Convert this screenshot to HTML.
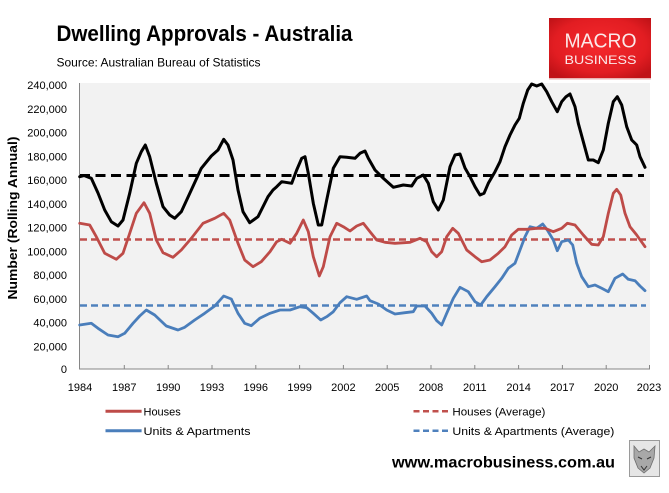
<!DOCTYPE html>
<html><head><meta charset="utf-8"><style>
html,body{margin:0;padding:0;background:#fff;}
svg{display:block;}
text{font-family:"Liberation Sans",sans-serif;}
</style></head><body>
<svg width="669" height="493" viewBox="0 0 669 493" xmlns="http://www.w3.org/2000/svg">
<defs>
<radialGradient id="rg" cx="50%" cy="45%" r="65%">
<stop offset="0" stop-color="#f5292d"/><stop offset="0.7" stop-color="#e21d22"/><stop offset="1" stop-color="#c01217"/>
</radialGradient>
</defs>
<rect width="669" height="493" fill="#fff"/>
<!-- Title -->
<text x="56.5" y="41" font-size="22" font-weight="bold" fill="#000" textLength="296" lengthAdjust="spacingAndGlyphs">Dwelling Approvals - Australia</text>
<text x="56.5" y="66.5" font-size="12" fill="#000" textLength="204" lengthAdjust="spacingAndGlyphs">Source: Australian Bureau of Statistics</text>
<!-- Logo -->
<rect x="549" y="18" width="102" height="60" fill="url(#rg)"/>
<rect x="549" y="78" width="102" height="1.5" fill="#e9b3b3"/>
<text x="600.5" y="47.3" font-size="20" fill="#fbeaea" text-anchor="middle" textLength="72" lengthAdjust="spacingAndGlyphs">MACRO</text>
<text x="600.5" y="64" font-size="11.5" fill="#fbeaea" text-anchor="middle" textLength="72" lengthAdjust="spacingAndGlyphs">BUSINESS</text>
<!-- Plot area -->
<rect x="80" y="83" width="570" height="286" fill="#f2f2f2"/>
<line x1="79.5" y1="83" x2="79.5" y2="369.5" stroke="#868686" stroke-width="1"/>
<line x1="79.5" y1="369" x2="650" y2="369" stroke="#868686" stroke-width="1"/>
<g stroke="#868686" stroke-width="1">
<line x1="124.3" y1="365" x2="124.3" y2="369"/><line x1="168.2" y1="365" x2="168.2" y2="369"/>
<line x1="212" y1="365" x2="212" y2="369"/><line x1="255.8" y1="365" x2="255.8" y2="369"/>
<line x1="299.6" y1="365" x2="299.6" y2="369"/><line x1="343.4" y1="365" x2="343.4" y2="369"/>
<line x1="387.2" y1="365" x2="387.2" y2="369"/><line x1="431" y1="365" x2="431" y2="369"/>
<line x1="474.8" y1="365" x2="474.8" y2="369"/><line x1="518.6" y1="365" x2="518.6" y2="369"/>
<line x1="562.4" y1="365" x2="562.4" y2="369"/><line x1="606.2" y1="365" x2="606.2" y2="369"/>
<line x1="649.5" y1="365" x2="649.5" y2="369"/>
</g>
<!-- Y labels -->
<g font-size="11" fill="#000" text-anchor="end">
<text x="67" y="89">240,000</text><text x="67" y="112.8">220,000</text>
<text x="67" y="136.5">200,000</text><text x="67" y="160.3">180,000</text>
<text x="67" y="184">160,000</text><text x="67" y="207.8">140,000</text>
<text x="67" y="231.5">120,000</text><text x="67" y="255.3">100,000</text>
<text x="67" y="279">80,000</text><text x="67" y="302.8">60,000</text>
<text x="67" y="326.5">40,000</text><text x="67" y="350.3">20,000</text>
<text x="67" y="373">0</text>
</g>
<text transform="translate(17,218) rotate(-90)" font-size="13" font-weight="bold" text-anchor="middle" textLength="163" lengthAdjust="spacingAndGlyphs">Number (Rolling Annual)</text>
<!-- X labels -->
<g font-size="11" fill="#000" text-anchor="middle">
<text x="80" y="391">1984</text><text x="124.3" y="391">1987</text><text x="168.2" y="391">1990</text>
<text x="212" y="391">1993</text><text x="255.8" y="391">1996</text><text x="299.6" y="391">1999</text>
<text x="343.4" y="391">2002</text><text x="387.2" y="391">2005</text><text x="431" y="391">2008</text>
<text x="474.8" y="391">2011</text><text x="518.6" y="391">2014</text><text x="562.4" y="391">2017</text>
<text x="649" y="391">2023</text><text x="606.2" y="391">2020</text>
</g>
<!-- Average lines -->
<line x1="80" y1="175.5" x2="644" y2="175.5" stroke="#000" stroke-width="3" stroke-dasharray="10,5.5"/>
<line x1="80" y1="239.5" x2="646" y2="239.5" stroke="#c0504d" stroke-width="2.5" stroke-dasharray="7,4"/>
<line x1="80" y1="305.5" x2="646" y2="305.5" stroke="#4f81bd" stroke-width="2.5" stroke-dasharray="7,4"/>
<!-- Series -->
<polyline fill="none" stroke="#4a7ebb" stroke-width="2.8" stroke-linejoin="round" stroke-linecap="round" points="79.7,325 91.3,323.3 98,328.3 108,335 118,336.7 124.7,333.3 133,323.3 139.7,316 146.3,310 154.7,315 166.3,326 178,330 184.7,327.3 194.7,320 204.7,313.3 214.7,306 223.7,296 231.3,299 238,313.3 244.7,323.3 251.3,325.7 259.7,318.3 270,313.3 280,310 290,310 300,306.7 306.7,307.7 313.3,313.3 320.7,320 326.7,316.7 333.3,311.7 340,302.7 346.7,296.7 356.7,299.3 366.7,296 370,300.7 378.3,304 386.7,310 395,314 405,312.7 413.3,311.7 416.7,306 425,306 431.7,313.3 436.7,320.7 441.7,325 446.7,313.3 453.3,298.3 460,287.3 468.3,291.7 475,301.7 480.7,305 486.7,296.7 495,286.7 501.7,278.3 508.3,268.3 515,263.3 520,250 525,236.7 530,226.7 536.7,228.3 542.7,224 547.3,230 553.3,240 557.3,250.7 561.7,241.7 568.3,240 572.7,245 576.7,263.3 581.7,276.7 588.3,286.7 595,285 601.7,288.3 608.3,291.7 615,278.3 622.7,274 628.3,279.3 635,280.7 640,286 645,290.7"/>
<polyline fill="none" stroke="#be4b48" stroke-width="2.8" stroke-linejoin="round" stroke-linecap="round" points="79.7,223.3 89.7,225 96.3,236.7 104.7,253.3 116.3,259.3 123,253.3 129.7,233.3 136.3,213.3 144,202.7 149.7,213.3 156.3,240 163,252.7 173,257.3 181.3,250 191.3,238.3 203,223.3 214.7,218.3 223.7,213.3 229.7,220 238,243.3 244.7,260 253,266.7 261.3,261.7 270,251.7 276.7,241.7 281.7,239.3 290,243.3 296.7,233.3 303.3,220 308.3,231.7 313.3,256.7 319.3,276 323.3,266.7 330,236.7 336.7,223.3 343.3,226.7 350,231 356.7,226 363.3,223.3 370,231.7 376.7,240 385,242.3 395,243.3 410,242.3 420,238.3 426.7,241.7 431.7,251.7 436.7,256.7 441.7,251.7 446.7,236.7 452.7,228.3 458.3,233.3 466.7,250 475,256.7 481.7,261.7 490,260 498.3,253.3 505,246.7 511.7,235 518.3,229.3 526.7,229.3 536.7,228.3 545,228.3 553.3,231.7 561.7,228.3 567.3,223.3 575,225 583.3,235 591.7,244.3 598.3,245 603.3,236.7 608.3,213.3 613.3,193.3 616.7,189.3 620.7,195 625,213.3 630,226.7 636.7,235 645,246.7"/>
<polyline fill="none" stroke="#000" stroke-width="3" stroke-linejoin="round" stroke-linecap="round" points="79.7,176.7 84,175.5 91.3,178.3 98,193 104.7,210 111.3,221.7 118,226 123,220 129.7,193.3 136.3,163.3 141.3,151.7 145.3,145 149.7,156.7 156.3,183.3 163,206.7 169.7,215 174.7,218.3 181.3,211.7 191.3,190 201.3,168.3 211.3,156 218,150 223.7,139.3 228,145 233,160 238,190 243,211.7 249.7,222.7 258,216.7 268,196.7 273,190 276.7,186.7 281.7,181.7 291.7,183.3 296.7,170 301.7,158.3 305,156.7 308.3,173.3 313.3,203.3 318.3,225 321.7,225 326.7,200 333.3,168.3 340,156.7 346.7,157.3 355,158.3 360,153.3 365,151 368.3,158.3 375,170 383.3,178.3 393.3,187.3 403.3,185 411.7,186 416.7,178.3 423.3,175 428.3,183.3 433.3,201.7 438.3,210 443.3,200 450,166.7 455,155 460,154 465,168 470,176.7 475,186.7 480,195 484,193.3 488.3,183.3 495,171.7 500,161.7 505,146.7 510,135 515,125 519.3,118.3 523.3,103.3 527.7,90 531.7,84 536.7,86 541.7,84 546.7,91.7 551.7,101.7 557.3,111.7 561.7,101.7 566,96.7 570,94 575,106.7 578.3,123.3 583.3,141.7 588.3,160 593.3,160 598.3,162.7 603.3,150 608.3,123.3 613.3,101.7 617.3,96.7 621.7,105 626.7,126.7 631.7,140 636.7,145 640,156.7 645,167.3"/>
<!-- Legend -->
<line x1="105.5" y1="411.3" x2="141.6" y2="411.3" stroke="#be4b48" stroke-width="3"/>
<text x="143.5" y="415.7" font-size="11">Houses</text>
<line x1="105.5" y1="430.7" x2="141.6" y2="430.7" stroke="#4a7ebb" stroke-width="3"/>
<text x="143.5" y="435" font-size="11" textLength="107" lengthAdjust="spacingAndGlyphs">Units &amp; Apartments</text>
<line x1="413.5" y1="411.3" x2="450" y2="411.3" stroke="#c0504d" stroke-width="2.5" stroke-dasharray="6,3.5"/>
<text x="452.4" y="415.7" font-size="11" textLength="93" lengthAdjust="spacingAndGlyphs">Houses (Average)</text>
<line x1="413.5" y1="430.7" x2="450" y2="430.7" stroke="#4f81bd" stroke-width="2.5" stroke-dasharray="6,3.5"/>
<text x="452.4" y="435" font-size="11" textLength="162" lengthAdjust="spacingAndGlyphs">Units &amp; Apartments (Average)</text>
<!-- Footer -->
<text x="392" y="467.3" font-size="16" font-weight="bold" textLength="223" lengthAdjust="spacingAndGlyphs">www.macrobusiness.com.au</text>
<rect x="629.5" y="440.5" width="30" height="36" fill="#e6e6e6" stroke="#9a9a9a" stroke-width="1"/>
<path d="M634,446 L639,452 L644,449 L649,452 L655,446 L654,458 L650,468 L644,473 L638,468 L634,458 Z" fill="#a8a8a8" stroke="#6e6e6e" stroke-width="0.8"/>
<path d="M638,457 L642,459 M647,459 L651,457 M641,466 L644,470 L647,466" stroke="#333" stroke-width="1" fill="none"/>
</svg>
</body></html>
